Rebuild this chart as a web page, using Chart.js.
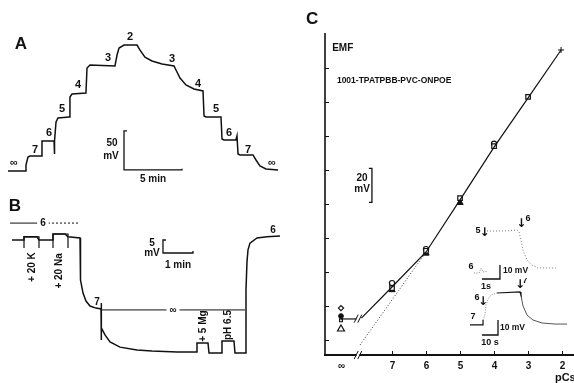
<!DOCTYPE html>
<html>
<head>
<meta charset="utf-8">
<script src="https://cdn.jsdelivr.net/npm/chart.js@4.4.0/dist/chart.umd.min.js"></script>
<style>
  html, body { margin: 0; padding: 0; background: #fff; }
  body { width: 574px; height: 383px; position: relative; overflow: hidden; }
  canvas { position: absolute; }
</style>
</head>
<body>
<canvas id="chA" width="290" height="170" style="left:0;top:20px"></canvas>
<canvas id="chB" width="290" height="188" style="left:0;top:195px"></canvas>
<canvas id="chC" width="274" height="383" style="left:300px;top:0"></canvas>
<canvas id="chI1" width="110" height="82" style="left:460px;top:212px"></canvas>
<canvas id="chI2" width="114" height="72" style="left:460px;top:278px"></canvas>
<script>
// ---- A: EMF trace (time in min, EMF in mV above pCs infinity)
const aTrace = [[0.69,0],[2.16,0],[2.24,7.7],[2.41,17.9],[2.59,19.2],[3.62,19.2],[3.62,38.5],[4.66,38.5],[4.66,21.8],[4.74,38.5],[4.83,62.8],[5.0,67.9],[5.95,69.2],[6.03,94.9],[6.21,98.7],[7.41,100],[7.5,132],[7.76,135.9],[9.91,134.6],[10.09,148.7],[10.26,157.7],[10.69,161.5],[11.81,161.5],[12.07,155],[12.5,146],[13.1,141],[13.97,137.2],[15.0,134.6],[15.17,129.5],[15.52,119.2],[16.03,110.3],[16.72,105.1],[17.5,102.6],[17.59,70.5],[17.76,69.2],[19.05,69.2],[19.14,41],[19.31,39.7],[20.34,39.7],[20.43,44.9],[20.52,21.8],[20.69,20.5],[21.81,20.5],[22.07,14.1],[22.41,6.4],[22.93,2.6],[23.97,1.3]];
const aScaleBar = [[10.95,51.3],[10.69,51.3],[10.69,1.3],[15.69,1.3],[15.69,3]];
const aLabels = [['∞',1.21,10.3],['7',3.02,26.9],['6',4.22,48.7],['5',5.34,79.5],['4',6.72,110],['3',9.31,144.9],['2',11.21,171.8],['3',14.83,143.6],['4',17.07,111.5],['5',18.62,79.5],['6',19.74,48.7],['7',21.38,26.9],['∞',23.45,10.3]];
const aScaleText = [['50',9.66,35.9],['mV',9.57,19.2],['5 min',13.19,-10.3]];

// ---- B: interference trace (time in min, mV relative to pCs 6)
const bTrace = [[0.4,0],[0.8,0],[0.8,1.2],[1.233,1.2],[1.3,0],[1.767,0],[1.767,2.3],[2.167,2.3],[2.267,1.2],[2.667,0.8],[2.667,-7.7],[2.7,-15.4],[2.767,-20.4],[2.867,-23.5],[3.0,-25.4],[3.2,-26.2],[3.367,-26.5],[3.367,-24.2],[3.367,-38.5],[3.4,-33.8],[3.5,-36.5],[3.667,-39.2],[4.0,-41.2],[4.567,-42.3],[5.067,-42.7],[5.9,-43.1],[6.567,-43.1],[6.567,-39.6],[6.933,-39.6],[6.967,-43.5],[7.367,-43.5],[7.4,-38.8],[7.8,-38.8],[7.833,-43.5],[8.167,-43.5],[8.2,-34.6],[8.2,-19.2],[8.233,-8.5],[8.267,-3.8],[8.333,-1.2],[8.567,0.8],[8.9,1.2],[9.333,1.5]];
const bBoxK = [[0.8,-3.1],[0.8,1.2],[1.3,1.2],[1.3,-3.1]];
const bBoxNa = [[1.767,-3.1],[1.767,2.3],[2.267,2.3],[2.267,-3.1]];
const bInfLine = [[3.367,-26.9],[8.167,-26.9]];
const bSixSolid = [[0.333,6.5],[1.3,6.5]];
const bSixDash = [[1.6,6.5],[2.667,6.5]];
const bScaleBar = [[5.533,0],[5.433,0],[5.433,-5],[6.433,-5],[6.433,-4.2]];
const bLabels = [['7',3.233,-23.8],['6',9.1,3.8],['5',5.067,-1.2],['mV',5.067,-5],['1 min',5.933,-9.6]];
const bBoxedLabels = [['6',1.433,6.5],['∞',5.767,-26.9]];
const bAdditions = [['+ 20 K',1.067,-10.4],['+ 20 Na',1.967,-11.9],['+ 5 Mg',6.767,-33.1],['pH 6.5',7.6,-32.7]];

// ---- C: calibration (pCs vs EMF, mV)
const cLinePC  = [7.9, 7, 6, 5, 4, 3, 2.03];
const cLineEMF = [12.9, 31.2, 51.8, 82.4, 113.5, 142.4, 170.6];
const cInfSeg = [[8.5,12.4],[8.03,12.4]];
const cNernst = [[7.94,-2.9],[6,51.8]];
const cSquarePC = [7, 6, 5, 4, 3];
const cSquareEMF = [30.5, 52.5, 83.5, 114, 143];
const cTrianglePC = [7, 6, 5];
const cTriangleEMF = [29.5, 51, 80.8];
const cCirclePC = [7, 6, 4];
const cCircleEMF = [33.5, 53.5, 115.5];
const cInfPC = 8.5;
const cInfDiamond = 18.8, cInfDot = 14.1, cInfSquare = 11.6, cInfTriangle = 6.5;
const cTopPoint = [[2.03,170.6]];
const cYTicks = [0, 20, 40, 60, 80, 100, 120, 140, 160];
const cXTicks = [8.5, 7, 6, 5, 4, 3, 2];
const cXTickLabels = ['∞', '7', '6', '5', '4', '3', '2'];
const cBreakPC = 8.0;
const cBracket = [[7.68,101],[7.59,101],[7.59,81],[7.68,81]];

// ---- insets (time in s, mV)
const i1Trace = [[1.5,35],[2.5,35],[3.17,35.7],[3.28,34.3],[3.39,28.6],[3.5,21.4],[3.72,14.3],[4.0,10.7],[4.33,8.6],[4.89,8.6],[5.33,8.6]];
const i1Start = [[0.78,5],[1.06,5],[1.17,8.6],[1.28,5.7],[1.56,6.4]];
const i1ScaleBar = [[2.22,10.7],[2.22,0.7],[1.22,0.7]];
const i1Labels = [['5',1.0,35.7],['6',3.78,43.6],['6',0.61,9.3],['1s',1.44,-4.3]];
const i1Arrows = [['↓',1.36,33.4],['↓',3.4,40.2]];
const i2Step = [[6.25,6.7],[14.4,6.7],[14.4,10]];
const i2Rise = [[14.4,10],[15.6,13.3],[16.25,20],[17.5,24],[19.4,26.7],[23.1,28]];
const i2Plateau = [[23.1,28],[37.5,28.7],[38.1,26.7]];
const i2Decay = [[38.1,26.7],[39.4,19.3],[41.9,13.3],[45.6,10],[51.25,8],[59.4,7.3],[66.9,7.3]];
const i2ScaleBar = [[23.75,10],[23.75,0],[13.75,0]];
const i2Labels = [['7',40.6,36],['6',10.6,25.3],['7',8.1,12],['10 s',18.75,-5.3]];
const i2Arrows = [['↓',37.5,33.6],['↓',14.4,22.4]];

const INK = '#111';
const FONT = '"Liberation Sans", Arial, sans-serif';

function pts(arr) { return arr.map(p => ({x: p[0], y: p[1]})); }
function zip(xs, ys) { return xs.map((x, i) => ({x: x, y: ys[i]})); }

function line(arr, extra) {
  return Object.assign({data: pts(arr), showLine: true, borderColor: INK, borderWidth: 1.5,
    pointRadius: 0, fill: false, tension: 0}, extra || {});
}

// text drawn at data coordinates
function textPlugin(groups) {
  return {
    id: 'texts',
    afterDatasetsDraw(chart) {
      const ctx = chart.ctx, xs = chart.scales.x, ys = chart.scales.y;
      groups.forEach(g => {
        g.items.forEach(it => {
          const px = xs.getPixelForValue(it[1]), py = ys.getPixelForValue(it[2]);
          ctx.save();
          ctx.font = g.font;
          ctx.textAlign = g.align || 'center';
          ctx.textBaseline = 'middle';
          ctx.translate(px, py);
          if (g.rot) ctx.rotate(g.rot);
          if (g.bg) {
            const w = ctx.measureText(it[0]).width;
            ctx.fillStyle = '#fff';
            ctx.fillRect(-w / 2 - 3, -6, w + 6, 12);
          }
          ctx.fillStyle = g.color || INK;
          ctx.fillText(it[0], 0, 0);
          ctx.restore();
        });
      });
    }
  };
}

function makeChart(id, datasets, xr, yr, groups, opts) {
  opts = opts || {};
  return new Chart(document.getElementById(id), {
    type: 'scatter',
    data: {datasets: datasets},
    options: {
      responsive: false, animation: false, events: [], devicePixelRatio: 1,
      layout: {padding: opts.padding || 0, autoPadding: false},
      plugins: {legend: {display: false}, tooltip: {enabled: false}},
      scales: {
        x: {type: 'linear', display: false, min: xr[0], max: xr[1], reverse: !!opts.reverse},
        y: {type: 'linear', display: false, min: yr[0], max: yr[1]}
      }
    },
    plugins: [textPlugin(groups)].concat(opts.plugins || [])
  });
}

// ---------- A
makeChart('chA', [
  line(aTrace),
  line(aScaleBar, {borderWidth: 1.3})
], [0, 25], [-24.4, 193.6], [
  {items: [['A', 1.81, 162.8]], font: 'bold 17px ' + FONT},
  {items: aLabels, font: 'bold 11px ' + FONT},
  {items: aScaleText, font: 'bold 10px ' + FONT}
]);

// ---------- B
makeChart('chB', [
  line(bTrace),
  line(bBoxK, {borderWidth: 1.2}),
  line(bBoxNa, {borderWidth: 1.2}),
  line(bInfLine, {borderWidth: 1}),
  line(bSixSolid, {borderWidth: 1}),
  line(bSixDash, {borderWidth: 1, borderDash: [2, 2]}),
  line(bScaleBar, {borderWidth: 1.3})
], [0, 9.667], [-55, 17.3], [
  {items: [['B', 0.5, 13.1]], font: 'bold 17px ' + FONT},
  {items: bLabels, font: 'bold 10px ' + FONT},
  {items: bBoxedLabels, font: 'bold 10px ' + FONT, bg: true},
  {items: bAdditions, font: 'bold 10px ' + FONT, rot: -Math.PI / 2}
]);

// ---------- C
const cAxes = {
  id: 'cAxes',
  afterDatasetsDraw(chart) {
    const ctx = chart.ctx, a = chart.chartArea, xs = chart.scales.x, ys = chart.scales.y;
    ctx.save();
    ctx.strokeStyle = INK;
    ctx.lineWidth = 1.6;
    ctx.beginPath(); ctx.moveTo(a.left, a.top); ctx.lineTo(a.left, a.bottom); ctx.stroke();
    ctx.lineWidth = 2;
    ctx.beginPath(); ctx.moveTo(a.left - 1, a.bottom); ctx.lineTo(a.right, a.bottom); ctx.stroke();
    ctx.lineWidth = 1;
    cYTicks.forEach(v => {
      const y = Math.round(ys.getPixelForValue(v)) + 0.5;
      ctx.beginPath(); ctx.moveTo(a.left, y); ctx.lineTo(a.left + 4, y); ctx.stroke();
    });
    ctx.font = 'bold 10px ' + FONT;
    ctx.fillStyle = INK;
    ctx.textAlign = 'center';
    ctx.textBaseline = 'middle';
    cXTicks.forEach((v, i) => {
      const x = Math.round(xs.getPixelForValue(v)) + 0.5;
      if (i > 0) { ctx.beginPath(); ctx.moveTo(x, a.bottom); ctx.lineTo(x, a.bottom - 4); ctx.stroke(); }
      ctx.fillText(cXTickLabels[i], x, a.bottom + 11);
    });
    // axis break marks
    const bx = xs.getPixelForValue(cBreakPC);
    const marks = [[bx, a.bottom], [bx, ys.getPixelForValue(12.6)]];
    marks.forEach(m => {
      ctx.fillStyle = '#fff';
      ctx.fillRect(m[0] - 1.5, m[1] - 2, 3, 4);
      ctx.lineWidth = 1;
      [-1.8, 1.8].forEach(d => {
        ctx.beginPath(); ctx.moveTo(m[0] + d - 2, m[1] + 4); ctx.lineTo(m[0] + d + 2, m[1] - 4); ctx.stroke();
      });
    });
    ctx.restore();
  }
};

const openPt = {showLine: false, borderColor: INK, backgroundColor: '#fff', borderWidth: 1.2};
makeChart('chC', [
  line(cInfSeg, {borderWidth: 1.2}),
  {data: zip(cLinePC, cLineEMF), showLine: true, borderColor: INK, borderWidth: 1.2, pointRadius: 0, tension: 0},
  line(cNernst, {borderWidth: 1, borderDash: [1, 2], borderColor: '#333'}),
  line(cBracket, {borderWidth: 1.3}),
  Object.assign({data: zip(cSquarePC, cSquareEMF), pointStyle: 'rect', pointRadius: 3.2}, openPt),
  Object.assign({data: zip(cCirclePC, cCircleEMF), pointStyle: 'circle', pointRadius: 2.6}, openPt),
  {data: zip(cTrianglePC, cTriangleEMF), showLine: false, pointStyle: 'triangle', pointRadius: 3.6, borderColor: INK, backgroundColor: INK, borderWidth: 1},
  Object.assign({data: [{x: cInfPC, y: cInfDiamond}], pointStyle: 'rectRot', pointRadius: 2.6}, openPt),
  {data: [{x: cInfPC, y: cInfDot}], showLine: false, pointStyle: 'circle', pointRadius: 2.4, borderColor: INK, backgroundColor: INK},
  Object.assign({data: [{x: cInfPC, y: cInfSquare}], pointStyle: 'rect', pointRadius: 2}, openPt),
  Object.assign({data: [{x: cInfPC, y: cInfTriangle}], pointStyle: 'triangle', pointRadius: 4}, openPt),
  {data: pts(cTopPoint), showLine: false, pointStyle: 'cross', pointRadius: 3, borderColor: INK, borderWidth: 1}
], [1.65, 8.97], [-8.8, 180.6], [
  {items: [['C', 9.35, 188.8]], font: 'bold 17px ' + FONT},
  {items: [['EMF', 8.76, 171.8]], font: 'bold 10px ' + FONT, align: 'left'},
  {items: [['1001-TPATPBB-PVC-ONPOE', 8.62, 152.4]], font: 'bold 8.5px ' + FONT, align: 'left'},
  {items: [['20', 7.88, 95.3], ['mV', 7.88, 88.5]], font: 'bold 10px ' + FONT},
  {items: [['pCs', 2.21, -22.4]], font: 'bold 11px ' + FONT, align: 'left'}
], {reverse: true, padding: {left: 25, top: 33, right: 0, bottom: 28}, plugins: [cAxes]});

// ---------- insets
makeChart('chI1', [
  line(i1Trace, {borderWidth: 1, borderColor: '#777', borderDash: [1, 2]}),
  line(i1Start, {borderWidth: 1, borderColor: '#888', borderDash: [1, 1.5]}),
  line(i1ScaleBar, {borderWidth: 1.3})
], [0, 6.11], [-10, 48.57], [
  {items: i1Labels, font: 'bold 9px ' + FONT},
  {items: i1Arrows, font: 'bold 12px "DejaVu Sans", sans-serif'},
  {items: [['10 mV', 2.39, 6.4]], font: 'bold 8.5px ' + FONT, align: 'left'}
]);

makeChart('chI2', [
  line(i2Step, {borderWidth: 1.2}),
  line(i2Rise, {borderWidth: 1, borderColor: '#888', borderDash: [1, 1.5]}),
  line(i2Plateau, {borderWidth: 1.2}),
  line(i2Decay, {borderWidth: 1, borderColor: '#555'}),
  line(i2ScaleBar, {borderWidth: 1.3})
], [0, 71.25], [-10, 38], [
  {items: i2Labels, font: 'bold 9px ' + FONT},
  {items: i2Arrows, font: 'bold 12px "DejaVu Sans", sans-serif'},
  {items: [['10 mV', 25, 4.7]], font: 'bold 8.5px ' + FONT, align: 'left'}
]);
</script>
</body>
</html>
